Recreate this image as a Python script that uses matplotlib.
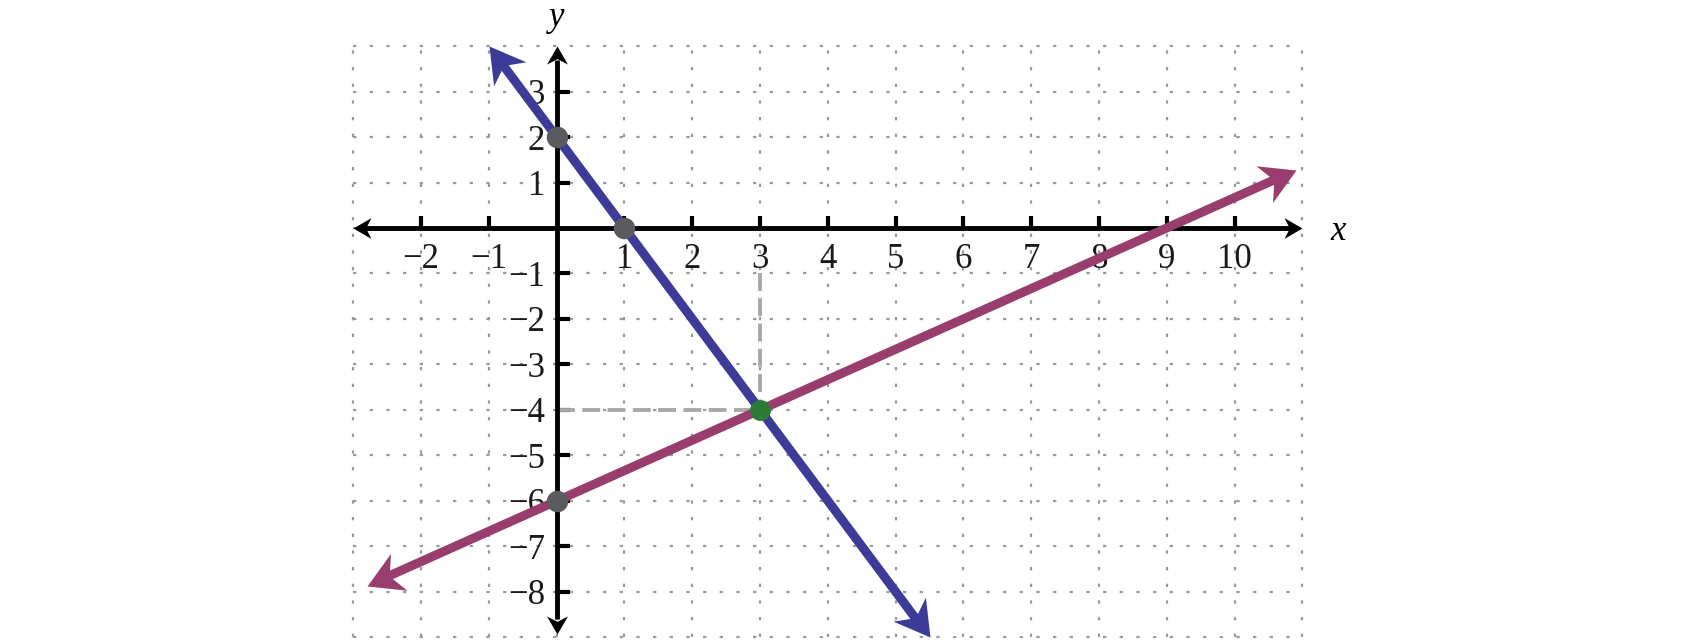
import numpy as np
import matplotlib
matplotlib.use("Agg")
import matplotlib.pyplot as plt
from matplotlib.path import Path
from matplotlib.markers import MarkerStyle
from matplotlib.transforms import Affine2D

plt.rcParams['font.family'] = ['Liberation Serif', 'DejaVu Serif']

# line endpoints (arrow tips)
blue_x = [-1, 5.5]
blue_y = [4, -9]
mag_x = [-2.8, 10.9]
mag_y = [-7.87, 1.27]

# marked points
gray_x = [0, 1, 0]
gray_y = [2, 0, -6]
green_x = [3]
green_y = [-4]

# dashed guides to the intersection
guide_h_x = [0, 3]
guide_h_y = [-4, -4]
guide_v_x = [3, 3]
guide_v_y = [-1, -4]

xticks = [-2, -1, 1, 2, 3, 4, 5, 6, 7, 8, 9, 10]
xtick_labels = ['\u22122', '\u22121', '1', '2', '3', '4', '5', '6', '7', '8', '9', '10']
yticks = [3, 2, 1, -1, -2, -3, -4, -5, -6, -7, -8]
ytick_labels = ['3', '2', '1', '\u22121', '\u22122', '\u22123', '\u22124',
                '\u22125', '\u22126', '\u22127', '\u22128']

grid_x = list(range(-3, 12))
grid_y = list(range(-9, 5))

blue = '#3c3b97'
magenta = '#993c6e'
gray_pt = '#5a5b5e'
green = '#2c7b34'

fig = plt.figure(figsize=(17, 6.4), dpi=100)
ax = fig.add_axes([0, 0, 1, 1])
ax.set_xlim(-8.211, 16.863)
ax.set_ylim(-9.061, 5.014)

# dotted grid, only inside the box
grid_style = dict(color='#9a9a9a', lw=1.6, linestyle=(0, (1.5, 6)), zorder=1, clip_on=False)
for gx in grid_x:
    ax.plot([gx, gx], [grid_y[0], grid_y[-1]], **grid_style)
for gy in grid_y:
    ax.plot([grid_x[0], grid_x[-1]], [gy, gy], **grid_style)

# axes through origin
for s in ['top', 'right']:
    ax.spines[s].set_visible(False)
ax.spines['bottom'].set_position(('data', 0))
ax.spines['left'].set_position(('data', 0))
ax.spines['bottom'].set_bounds(-2.85, 10.85)
ax.spines['left'].set_bounds(-8.6, 3.7)
for s in ['bottom', 'left']:
    ax.spines[s].set_linewidth(3.5)
    ax.spines[s].set_capstyle('butt')
    ax.spines[s].set_zorder(2.5)

ax.set_xticks(xticks, labels=xtick_labels)
ax.set_yticks(yticks, labels=ytick_labels)
ax.tick_params(axis='both', direction='in', length=9, width=3, color='black',
               labelsize=25, labelcolor='#1a1a1a')
ax.tick_params(axis='x', pad=10.5)
ax.tick_params(axis='y', pad=8.5)

HEAD = Path([(0, 0), (-1, 0.58), (-0.7, 0), (-1, -0.58), (0, 0)],
            [Path.MOVETO, Path.LINETO, Path.LINETO, Path.LINETO, Path.CLOSEPOLY])


def head(x, y, x_from, y_from, color, ms, z):
    p = ax.transData.transform([(x_from, y_from), (x, y)])
    ang = np.degrees(np.arctan2(p[1, 1] - p[0, 1], p[1, 0] - p[0, 0]))
    m = MarkerStyle(HEAD, transform=Affine2D().rotate_deg(ang))
    ax.plot([x], [y], marker=m, ms=ms, color=color, mew=0, ls='none',
            clip_on=False, zorder=z)


# axis arrowheads
head(-3, 0, 0, 0, 'black', 26, 2.6)
head(11, 0, 0, 0, 'black', 26, 2.6)
head(0, 4, 0, 0, 'black', 26, 2.6)
head(0, -8.92, 0, 0, 'black', 26, 2.6)

# dashed guides
ax.plot(guide_h_x, guide_h_y, color='#a8a8a8', lw=2.8, linestyle=(0, (4.6, 1.9)), zorder=2)
ax.plot(guide_v_x, guide_v_y, color='#a8a8a8', lw=2.8, linestyle=(0, (4.6, 1.9)), zorder=2)

# the two lines with arrowheads at both ends
for lx, ly, c in [(blue_x, blue_y, blue), (mag_x, mag_y, magenta)]:
    ax.annotate('', xy=(lx[1], ly[1]), xytext=(lx[0], ly[0]),
                arrowprops=dict(arrowstyle='-', lw=6.5, color=c,
                                shrinkA=13, shrinkB=13), zorder=3)
    head(lx[1], ly[1], lx[0], ly[0], c, 50, 4)
    head(lx[0], ly[0], lx[1], ly[1], c, 50, 4)

ax.plot(gray_x, gray_y, 'o', ms=15.5, color=gray_pt, mew=0, zorder=5)
ax.plot(green_x, green_y, 'o', ms=15, color=green, mew=0, zorder=5)

ax.text(11.53, -0.07, 'x', fontsize=25, style='italic', ha='center', va='center')
ax.text(0.0, 5.0, 'y', fontsize=25, style='italic', ha='center', va='top')

fig.savefig('out.png', dpi=100)
